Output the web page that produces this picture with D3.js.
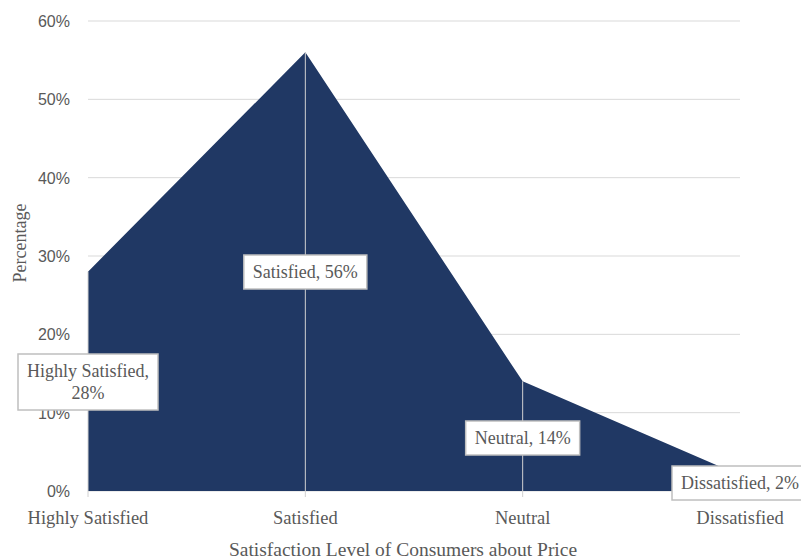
<!DOCTYPE html>
<html lang="en">
<head>
    <meta charset="UTF-8">
    <script src="https://d3js.org/d3.v7.min.js"></script>
    <style>
        body { margin: 0; background: #fff; }
        .serif { font-family: "Liberation Serif", "Times New Roman", serif; fill: #595959; }
        .tick-y { font-family: "Liberation Sans", Arial, sans-serif; fill: #595959; font-size: 16px; }
    </style>
</head>
<body>
    <svg id="chart"></svg>
    <script>
        const categories = ["Highly Satisfied", "Satisfied", "Neutral", "Dissatisfied"];
        const values = [28, 56, 14, 2];
        const yTicks = [0, 10, 20, 30, 40, 50, 60];

        const data = categories.map((c, i) => ({ cat: c, val: values[i] }));

        const width = 801, height = 560;
        const plotLeft = 88, plotRight = 740, plotTop = 21, plotBottom = 491;

        const svg = d3.select("#chart")
            .attr("width", width)
            .attr("height", height);

        const x = d3.scalePoint()
            .domain(categories)
            .range([plotLeft, plotRight]);

        const y = d3.scaleLinear()
            .domain([0, 60])
            .range([plotBottom, plotTop]);

        // horizontal gridlines
        svg.append("g")
            .selectAll("line")
            .data(yTicks)
            .enter()
            .append("line")
            .attr("x1", plotLeft)
            .attr("x2", plotRight)
            .attr("y1", d => y(d))
            .attr("y2", d => y(d))
            .attr("stroke", "#d9d9d9")
            .attr("stroke-width", 1);

        // y tick labels
        svg.append("g")
            .selectAll("text")
            .data(yTicks)
            .enter()
            .append("text")
            .attr("class", "tick-y")
            .attr("x", 70)
            .attr("y", d => y(d) + 6)
            .attr("text-anchor", "end")
            .text(d => d + "%");

        // area
        const area = d3.area()
            .x(d => x(d.cat))
            .y0(y(0))
            .y1(d => y(d.val));

        svg.append("path")
            .datum(data)
            .attr("d", area)
            .attr("fill", "#203864");

        // drop lines at each category
        svg.append("g")
            .selectAll("line")
            .data(data)
            .enter()
            .append("line")
            .attr("x1", d => x(d.cat))
            .attr("x2", d => x(d.cat))
            .attr("y1", d => y(d.val))
            .attr("y2", plotBottom + 6)
            .attr("stroke", "#d0d0d0")
            .attr("stroke-width", 1);

        // category labels
        svg.append("g")
            .selectAll("text")
            .data(categories)
            .enter()
            .append("text")
            .attr("class", "serif")
            .attr("x", d => x(d))
            .attr("y", 524)
            .attr("text-anchor", "middle")
            .attr("font-size", "18.5px")
            .text(d => d);

        // axis titles
        svg.append("text")
            .attr("class", "serif")
            .attr("x", (plotLeft + plotRight) / 2 - 11)
            .attr("y", 556)
            .attr("text-anchor", "middle")
            .attr("font-size", "19.5px")
            .text("Satisfaction Level of Consumers about Price");

        svg.append("text")
            .attr("class", "serif")
            .attr("transform", "translate(26,243) rotate(-90)")
            .attr("text-anchor", "middle")
            .attr("font-size", "18px")
            .text("Percentage");

        // data labels with boxes
        const labelPos = [
            { cy: 382, lines: ["Highly Satisfied,", "28%"] },
            { cy: 272, lines: ["Satisfied, 56%"] },
            { cy: 438, lines: ["Neutral, 14%"] },
            { cy: 483, lines: ["Dissatisfied, 2%"] }
        ];

        const labels = svg.append("g");
        data.forEach((d, i) => {
            const p = labelPos[i];
            const g = labels.append("g");
            const lh = 22;
            const cx = x(d.cat);
            const startY = p.cy - (p.lines.length - 1) * lh / 2;
            const texts = p.lines.map((t, j) => g.append("text")
                .attr("class", "serif")
                .attr("x", cx)
                .attr("y", startY + j * lh + 6)
                .attr("text-anchor", "middle")
                .attr("font-size", "18px")
                .text(t));
            const w = d3.max(texts, t => t.node().getComputedTextLength());
            const bw = w + 18, bh = p.lines.length * lh + 12;
            g.insert("rect", "text")
                .attr("x", cx - bw / 2)
                .attr("y", p.cy - bh / 2)
                .attr("width", bw)
                .attr("height", bh)
                .attr("fill", "#fff")
                .attr("stroke", "#bfbfbf")
                .attr("stroke-width", 1.5);
        });
    </script>
</body>
</html>
